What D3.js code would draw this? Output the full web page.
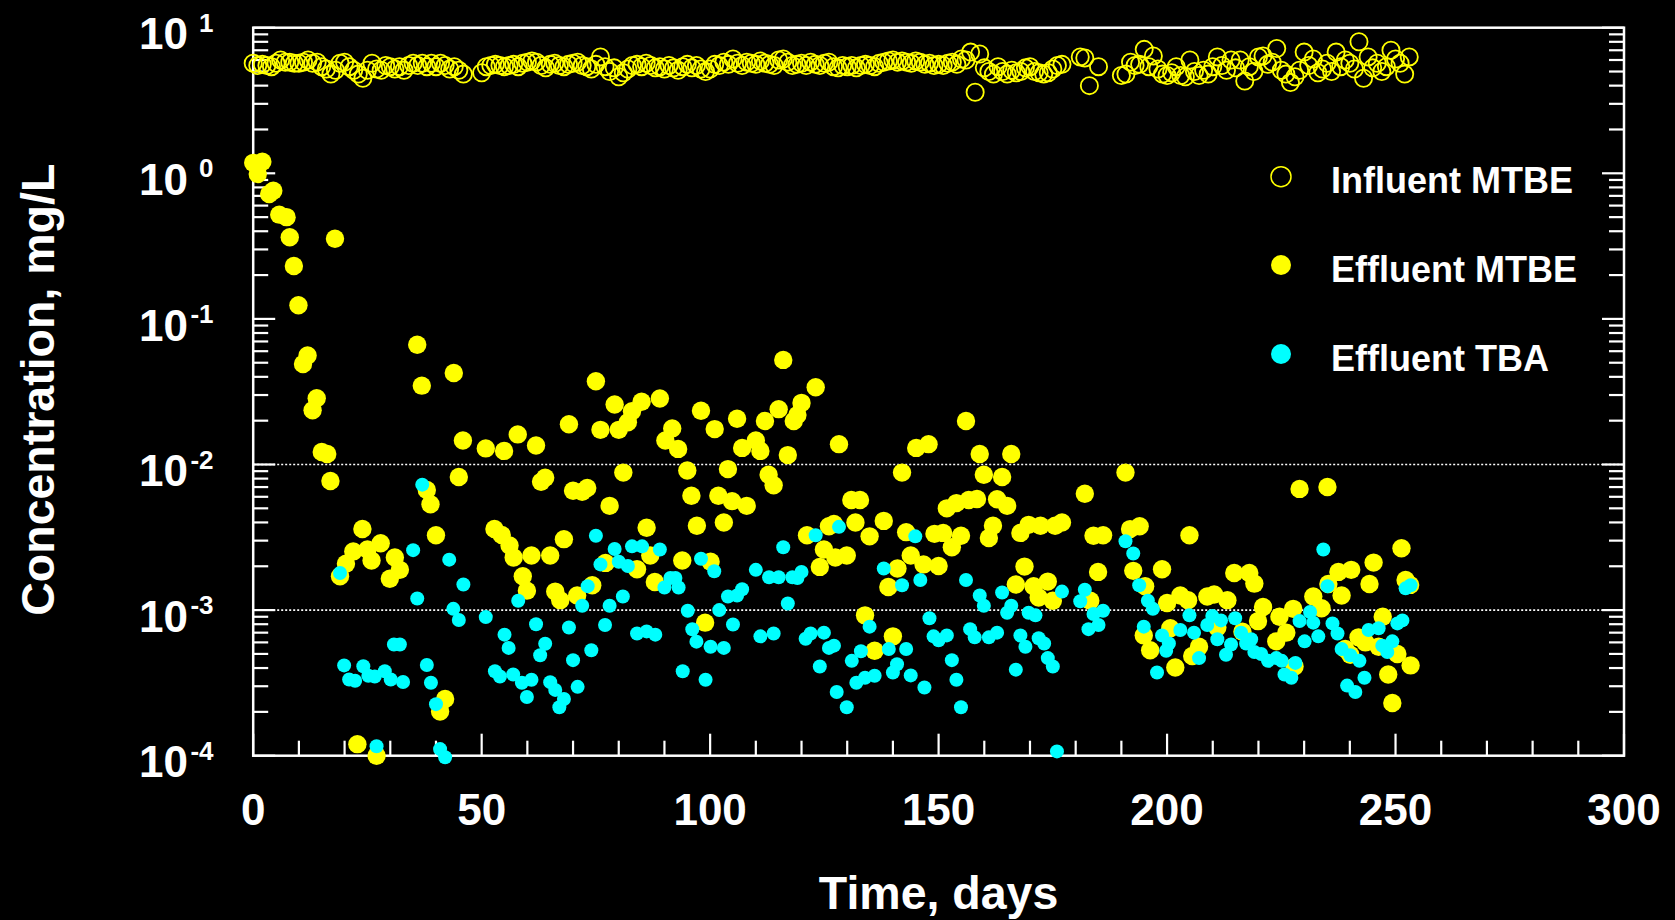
<!DOCTYPE html>
<html>
<head>
<meta charset="utf-8">
<script src="https://cdn.jsdelivr.net/npm/d3@7"></script>
<style>
  html, body { margin: 0; padding: 0; background: #000; }
  svg { display: block; }
  text { font-family: "Liberation Sans", Arial, Helvetica, sans-serif; font-weight: bold; fill: #fff; }
</style>
</head>
<body>
<svg id="chart" width="1675" height="920"></svg>
<script>
// Influent MTBE, mg/L: [day, concentration]
const influentMTBE = [
  [0,5.7],[1,5.5],[2,5.6],[3,5.5],[4,5.4],[5,5.7],[6,6.0],[7,5.8],[8,5.8],[9,5.7],
  [10,5.7],[11,5.8],[12,6.0],[13,5.7],[14,5.8],[15,5.4],[16,5.2],[17,4.8],[18,5.1],[19,5.7],
  [20,5.8],[21,5.4],[22,5.1],[23,4.8],[24,4.5],[25,5.1],[26,5.7],[27,5.2],[28,5.1],[29,5.5],
  [30,5.4],[31,5.2],[32,5.4],[33,5.1],[34,5.5],[35,5.7],[36,5.5],[37,5.7],[38,5.4],[39,5.7],
  [40,5.4],[41,5.7],[42,5.5],[43,5.2],[44,5.4],[45,5.1],[46,4.8],
  [50,4.9],[51,5.4],[52,5.5],[53,5.6],[54,5.5],[55,5.4],[56,5.5],[57,5.6],[58,5.4],[59,5.7],
  [60,5.8],[61,5.9],[62,5.8],[63,5.5],[64,5.3],[65,5.6],[66,5.7],[67,5.5],[68,5.4],[69,5.6],
  [70,5.7],[71,5.8],[72,5.5],[73,5.4],[74,5.2],[75,5.6],[76,6.3],[77,5.4],[78,5.0],[79,5.3],
  [80,4.6],[81,4.9],[82,5.2],[83,5.5],[84,5.6],[85,5.4],[86,5.7],[87,5.5],[88,5.3],[89,5.4],
  [90,5.2],[91,5.5],[92,5.3],[93,5.1],[94,5.4],[95,5.6],[96,5.3],[97,5.5],[98,5.2],[99,5.0],
  [100,5.2],[101,5.6],[102,5.5],[103,5.8],[104,5.6],[105,6.1],[106,5.7],[107,5.5],[108,5.8],[109,5.7],
  [110,5.6],[111,5.9],[112,5.7],[113,5.6],[114,5.5],[115,6.0],[116,6.1],[117,5.8],[118,5.5],[119,5.6],
  [120,5.7],[121,5.5],[122,5.8],[123,5.6],[124,5.5],[125,5.7],[126,5.8],[127,5.4],[128,5.3],[129,5.5],
  [130,5.4],[131,5.5],[132,5.3],[133,5.5],[134,5.6],[135,5.5],[136,5.4],[137,5.7],[138,5.8],[139,5.9],
  [140,6.0],[141,5.8],[142,5.9],[143,5.8],[144,5.7],[145,5.9],[146,5.8],[147,5.6],[148,5.7],[149,5.5],
  [150,5.6],[151,5.5],[152,5.7],[153,5.8],[154,5.6],[155,6.1],[156,6.0],[157,6.8],[158,3.6],[159,6.6],
  [160,5.3],[161,5.0],[162,4.8],[163,5.4],[164,5.0],[165,4.8],[166,5.1],[167,4.9],[168,5.0],[169,5.3],
  [170,5.4],[171,5.0],[172,4.9],[173,4.8],[174,4.9],[175,5.2],[176,5.5],[177,5.6],
  [181,6.3],[182,6.2],[183,4.0],[185,5.4],
  [190,4.7],[191,4.8],[192,5.8],[193,5.5],[194,5.6],[195,7.1],[196,5.4],[197,6.4],[198,5.2],[199,4.8],
  [200,4.7],[201,4.9],[202,5.4],[203,4.7],[204,4.6],[205,6.0],[206,5.0],[207,4.7],[208,5.1],[209,4.8],
  [210,5.4],[211,6.3],[212,5.5],[213,5.1],[214,6.0],[215,5.3],[216,6.0],[217,4.3],[218,5.4],[219,5.0],
  [220,6.3],[221,6.4],[222,5.6],[223,5.8],[224,7.2],[225,5.1],[226,4.8],[227,4.2],[228,4.6],[229,5.1],
  [230,6.8],[231,5.5],[232,6.1],[233,4.9],[234,5.2],[235,5.7],[236,5.0],[237,6.8],[238,5.4],[239,6.0],
  [240,5.7],[241,5.2],[242,8.0],[243,4.5],[244,6.3],[245,5.3],[246,5.7],[247,5.0],[248,5.4],[249,7.0],
  [250,6.1],[251,5.7],[252,4.8],[253,6.3]
];

// Effluent MTBE, mg/L: [day, concentration]
const effluentMTBE = [
  [0,1.18],[1,0.99],[2,1.2],[3.5,0.72],[4.4,0.76],[5.7,0.52],[7.3,0.5],[8,0.364],[8.9,0.231],[9.9,0.124],
  [10.9,0.049],[11.9,0.056],[13,0.0236],[13.9,0.0285],[15,0.0122],[16.2,0.0118],[16.9,0.0077],[17.9,0.355],[19,0.00171],[20.3,0.00208],
  [21.9,0.00253],[22.8,0.00012],[23.9,0.00361],[25,0.00261],[25.9,0.00219],[27,0.0001],[27.9,0.00288],[29.9,0.00164],[31,0.0023],[32.1,0.00189],
  [35.9,0.0665],[36.9,0.0348],[38,0.00668],[38.8,0.00533],[40,0.00327],[40.9,0.000201],[42,0.000245],[43.9,0.0425],[45,0.0082],[45.9,0.0146],
  [50.9,0.0129],[52.8,0.00361],[54.4,0.00328],[54.9,0.0124],[56.1,0.00278],[57,0.0023],[57.9,0.0161],[59,0.00171],[59.9,0.00136],[60.9,0.00237],
  [61.9,0.0135],[63,0.0076],[63.9,0.0081],[65,0.00237],[66.1,0.00134],[67.2,0.00117],[68,0.00307],[69.1,0.0189],[70,0.0066],[70.9,0.00126],
  [72,0.0065],[73.1,0.0069],[74.2,0.00148],[75,0.0373],[76,0.0173],[77.1,0.00211],[78,0.0052],[79.1,0.0258],[80,0.0173],[81,0.0088],
  [82,0.0195],[82.9,0.0232],[84,0.00191],[85,0.027],[86.1,0.00368],[86.9,0.00237],[87.9,0.00156],[89,0.0284],[90.2,0.0146],[91.7,0.0177],
  [93,0.0128],[93.9,0.00219],[95,0.0091],[95.9,0.0061],[97.1,0.0038],[98,0.0234],[98.9,0.00082],[100.1,0.00215],[101,0.0175],[101.8,0.0061],
  [103,0.004],[103.9,0.0093],[104.8,0.0056],[105.9,0.0206],[107,0.013],[108,0.0052],[110,0.0146],[111,0.0124],[112,0.0199],[112.8,0.0085],
  [113.9,0.0072],[115,0.024],[116,0.0523],[117,0.0116],[118.3,0.0199],[119.1,0.0219],[120,0.0265],[121.2,0.00327],[123.1,0.0339],[124,0.00198],
  [124.9,0.00261],[126,0.00377],[127.1,0.0039],[127.4,0.0023],[128.2,0.0138],[129.9,0.00237],[130.9,0.0057],[131.8,0.004],[132.8,0.0057],[133.9,0.00092],
  [134.9,0.00321],[136,0.000526],[138,0.0041],[139,0.00144],[140,0.00066],[141,0.00193],[142,0.0088],[142.9,0.00343],[143.9,0.00237],[145.1,0.013],
  [146.7,0.00206],[147.8,0.0138],[149.1,0.00334],[150,0.00201],[151,0.00339],[151.8,0.005],[152.9,0.0027],[153.9,0.00543],[154.9,0.00324],[156,0.0199],
  [156.6,0.0057],[158.4,0.0058],[159,0.0118],[159.9,0.0085],[161,0.00313],[161.9,0.0038],[162.8,0.00577],[163.9,0.0082],[165,0.0052],[165.9,0.0118],
  [166.9,0.0015],[167.9,0.00339],[168.8,0.00199],[169.7,0.00385],[170.8,0.00146],[171.9,0.00122],[172.3,0.0038],[173.9,0.00157],[175,0.00116],[175.5,0.0038],
  [177,0.004],[182,0.0063],[183.2,0.00116],[183.9,0.00324],[184.9,0.00183],[186,0.00327],[190.9,0.0088],[191.9,0.0036],[192.6,0.00186],[194,0.00377],
  [194.9,0.00067],[195.2,0.00146],[196.3,0.00053],[198.9,0.00191],[200,0.00112],[200.7,0.00075],[201.8,0.000403],[202.9,0.00126],[204.6,0.00117],[204.9,0.00327],
  [205.5,0.000484],[207,0.00056],[208.8,0.00124],[210.3,0.00128],[211,0.00076],[213.2,0.00117],[214.7,0.0018],[216.5,0.00071],[218,0.0018],[219.1,0.00152],
  [219.9,0.00084],[221,0.00105],[223.9,0.00061],[224.6,0.0009],[226.1,0.0007],[227.6,0.00102],[227.9,0.00041],[229,0.0068],[232,0.00124],[233.8,0.00103],
  [235.1,0.007],[235.3,0.00151],[237.5,0.00183],[238.2,0.00126],[239,0.00054],[240.1,0.000493],[240.3,0.00189],[241.9,0.00065],[243.4,0.0006],[244.3,0.00151],
  [245.2,0.00212],[246.3,0.00056],[247.2,0.0009],[248.4,0.000361],[249.3,0.00023],[250.4,0.0005],[251.3,0.00266],[252.2,0.00161],[253.2,0.00149],[253.3,0.000417]
];

// Effluent TBA, mg/L: [day, concentration]
const effluentTBA = [
  [19,0.0018],[19.9,0.000417],[21,0.000334],[22.3,0.000327],[24.1,0.000411],[25.2,0.000354],[26.6,0.00035],[27,0.000116],[28.8,0.00038],[30.1,0.000334],
  [30.8,0.00058],[32.1,0.00058],[32.8,0.000321],[35,0.00258],[35.9,0.0012],[37,0.00727],[38,0.00042],[38.9,0.000317],[40,0.000226],[40.9,0.000111],
  [42,0.0000975],[42.9,0.00222],[43.8,0.00102],[45,0.000855],[46,0.0015],[50.9,0.000895],[52.9,0.00038],[54,0.00035],[55,0.000678],[55.9,0.00055],
  [56.9,0.000361],[58,0.00116],[58.8,0.000317],[59.9,0.000253],[60.9,0.000332],[61.9,0.0008],[62.8,0.00049],[63.9,0.000587],[65,0.00032],[66.1,0.000283],
  [67,0.000215],[68,0.000245],[69.1,0.00076],[70,0.000453],[71,0.000297],[72,0.00107],[73.2,0.00146],[74,0.00053],[75,0.00324],[76,0.00206],
  [77,0.00079],[78,0.00107],[79.1,0.00263],[80,0.00215],[80.9,0.00124],[82,0.00201],[82.9,0.00274],[84,0.00069],[85.1,0.00274],[86.1,0.000714],
  [88,0.000678],[89,0.00261],[90,0.00143],[91.3,0.00166],[92.4,0.00166],[93.1,0.00143],[94,0.00038],[95.1,0.00099],[96.1,0.000738],[97,0.000607],
  [98,0.00225],[99,0.000332],[100.1,0.00056],[100.9,0.00185],[102,0.001],[103,0.00055],[103.9,0.00124],[105,0.000796],[105.9,0.00126],[107,0.00139],
  [110,0.00189],[111,0.00066],[112.9,0.00168],[113.9,0.00069],[115,0.00168],[116,0.0027],[117,0.00111],[118,0.00168],[119.1,0.00166],[120,0.00183],
  [120.9,0.000635],[122,0.00069],[123.1,0.00327],[124,0.00041],[124.9,0.0007],[126,0.00055],[127.1,0.00057],[127.7,0.000274],[128.2,0.00373],[129.9,0.000215],
  [131,0.000448],[132,0.000317],[133,0.000522],[133.9,0.000343],[134.9,0.00077],[136,0.000354],[138,0.00193],[139.1,0.00054],[140,0.000373],[140.9,0.000425],
  [142,0.00148],[142.9,0.00054],[143.9,0.000356],[144.9,0.00321],[146,0.00161],[146.9,0.000294],[148,0.00088],[148.9,0.00066],[150,0.00062],[151.8,0.00067],
  [152.9,0.000453],[153.9,0.000332],[154.9,0.000215],[156,0.00161],[156.9,0.00074],[157.9,0.00065],[159,0.00126],[159.9,0.00107],[161,0.00065],[162.8,0.0007],
  [163.9,0.00132],[165,0.00096],[165.9,0.00107],[166.9,0.00039],[167.9,0.00067],[169,0.00056],[169.7,0.00096],[171.2,0.00092],[171.9,0.00064],[173.1,0.00059],
  [173.9,0.000468],[175,0.00041],[175.9,0.000107],[177,0.00134],[181,0.00115],[182,0.00138],[182.8,0.00074],[183.9,0.00094],[185,0.00079],[186,0.00099],
  [190.9,0.00297],[192.6,0.00245],[193.9,0.00148],[194.9,0.00077],[195.8,0.00116],[196.9,0.00102],[197.8,0.000373],[198.9,0.00067],[199.8,0.000526],[200.4,0.00059],
  [202.9,0.00073],[204.9,0.00092],[205.9,0.0007],[207,0.000468],[208.8,0.00079],[209.9,0.00091],[211,0.00063],[211.8,0.00085],[212.9,0.000493],[214,0.00058],
  [214.9,0.00088],[216.2,0.0007],[217.3,0.00059],[218.4,0.00063],[219.1,0.000516],[220.6,0.0005],[222.1,0.000448],[223.9,0.000468],[225.1,0.000448],[225.7,0.000361],
  [227.2,0.000343],[228.1,0.000434],[229,0.00084],[230.1,0.00061],[231.3,0.00097],[232,0.00082],[233.1,0.00066],[234.2,0.00261],[235.1,0.00146],[236.2,0.00081],
  [237.3,0.00069],[238.2,0.00054],[239.4,0.000303],[240.1,0.00049],[241.2,0.000274],[242.1,0.000448],[243.2,0.000343],[244.1,0.00073],[246.3,0.00075],[247.1,0.00057],
  [248.2,0.000516],[249.3,0.00061],[250.4,0.00081],[251.5,0.00085],[252.2,0.00141],[253.3,0.00148]
];

// Axis definitions
const xDomain = [0, 300];
const xMajorTicks = [0, 50, 100, 150, 200, 250, 300];
const xMinorStep = 10;
const yDomain = [1e-4, 10];
const yDecadeExponents = [1, 0, -1, -2, -3, -4];
const yGridValues = [1e-2, 1e-3];

const legendEntries = [
  { label: "Influent MTBE", key: "influent" },
  { label: "Effluent MTBE", key: "effMTBE" },
  { label: "Effluent TBA", key: "effTBA" }
];

const YELLOW = "#ffff00";
const CYAN = "#00ffff";

const svg = d3.select("#chart");
svg.append("rect").attr("width", 1675).attr("height", 920).attr("fill", "#000");

const plot = { left: 253.2, right: 1624, top: 27.7, bottom: 755.7 };
const x = d3.scaleLinear().domain(xDomain).range([plot.left, plot.right]);
const y = d3.scaleLog().domain(yDomain).range([plot.bottom, plot.top]);

// dotted reference lines
svg.append("g").selectAll("line").data(yGridValues).join("line")
  .attr("x1", plot.left).attr("x2", plot.right)
  .attr("y1", d => y(d)).attr("y2", d => y(d))
  .attr("stroke", "#fff").attr("stroke-width", 1.6)
  .attr("stroke-dasharray", "2,2");

// frame
svg.append("rect")
  .attr("x", plot.left).attr("y", plot.top)
  .attr("width", plot.right - plot.left).attr("height", plot.bottom - plot.top)
  .attr("fill", "none").attr("stroke", "#fff").attr("stroke-width", 2.5);

// log ticks on left and right (pointing inward)
const yTickVals = y.ticks();
const isDecade = v => Math.abs(Math.log10(v) - Math.round(Math.log10(v))) < 1e-9;
const yTicksG = svg.append("g").attr("stroke", "#fff").attr("stroke-width", 2.2);
yTicksG.selectAll("line.l").data(yTickVals).join("line").attr("class", "l")
  .attr("x1", plot.left).attr("x2", d => plot.left + (isDecade(d) ? 22 : 15))
  .attr("y1", d => y(d)).attr("y2", d => y(d));
yTicksG.selectAll("line.r").data(yTickVals).join("line").attr("class", "r")
  .attr("x1", plot.right).attr("x2", d => plot.right - (isDecade(d) ? 22 : 15))
  .attr("y1", d => y(d)).attr("y2", d => y(d));

// x ticks on bottom (pointing up)
const xTickVals = d3.range(xDomain[0], xDomain[1] + 1, xMinorStep);
svg.append("g").attr("stroke", "#fff").attr("stroke-width", 2.2)
  .selectAll("line").data(xTickVals).join("line")
  .attr("x1", d => x(d)).attr("x2", d => x(d))
  .attr("y1", plot.bottom)
  .attr("y2", d => plot.bottom - (xMajorTicks.includes(d) ? 22 : 15));

// x tick labels
svg.append("g").selectAll("text").data(xMajorTicks).join("text")
  .attr("x", d => x(d)).attr("y", 825)
  .attr("text-anchor", "middle").attr("font-size", 44)
  .text(d => d);

// y tick labels: 10 with superscript exponent
const yLab = svg.append("g");
yLab.selectAll("text.base").data(yDecadeExponents).join("text").attr("class", "base")
  .attr("x", 188).attr("y", e => y(Math.pow(10, e)) + 21.6)
  .attr("text-anchor", "end").attr("font-size", 44)
  .text("10");
yLab.selectAll("text.exp").data(yDecadeExponents).join("text").attr("class", "exp")
  .attr("x", 213.5).attr("y", e => y(Math.pow(10, e)) + 4)
  .attr("text-anchor", "end").attr("font-size", 26)
  .text(e => e);

// axis titles
svg.append("text")
  .attr("x", (plot.left + plot.right) / 2).attr("y", 909)
  .attr("text-anchor", "middle").attr("font-size", 46.5)
  .text("Time, days");
svg.append("text")
  .attr("transform", `translate(54,${(plot.top + plot.bottom) / 2 - 2}) rotate(-90)`)
  .attr("text-anchor", "middle").attr("font-size", 46.5)
  .text("Concentration, mg/L");

// data
svg.append("g").selectAll("circle").data(influentMTBE).join("circle")
  .attr("cx", d => x(d[0])).attr("cy", d => y(d[1])).attr("r", 8.6)
  .attr("fill", "none").attr("stroke", YELLOW).attr("stroke-width", 1.8);

svg.append("g").selectAll("circle").data(effluentMTBE).join("circle")
  .attr("cx", d => x(d[0])).attr("cy", d => y(d[1])).attr("r", 9.2)
  .attr("fill", YELLOW);

svg.append("g").selectAll("circle").data(effluentTBA).join("circle")
  .attr("cx", d => x(d[0])).attr("cy", d => y(d[1])).attr("r", 7)
  .attr("fill", CYAN);

// legend
const legend = svg.append("g");
const legendY = [176.7, 265, 354];
legendEntries.forEach((e, i) => {
  const c = legend.append("circle").attr("cx", 1281).attr("cy", legendY[i]).attr("r", 10);
  if (e.key === "influent") c.attr("fill", "none").attr("stroke", YELLOW).attr("stroke-width", 1.5);
  else c.attr("fill", e.key === "effMTBE" ? YELLOW : CYAN);
  legend.append("text").attr("x", 1331).attr("y", legendY[i] + 16.6)
    .attr("font-size", 36).text(e.label);
});
</script>
</body>
</html>
